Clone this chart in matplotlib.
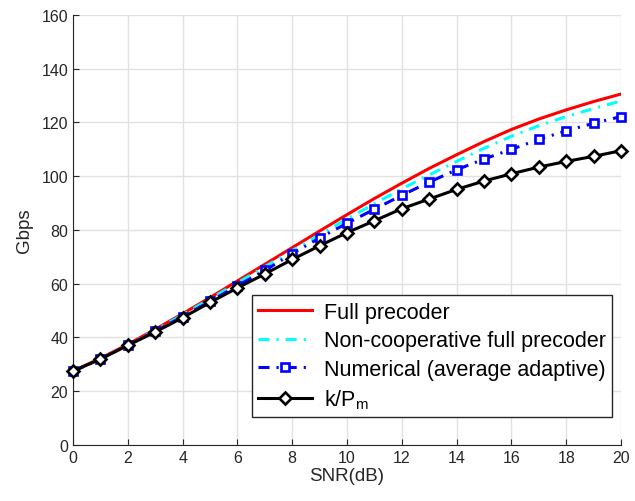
import matplotlib.pyplot as plt
import numpy as np

plt.rcParams['font.family'] = ['Liberation Sans', 'DejaVu Sans']

snr = list(range(0, 21))

full_precoder = [27.5, 32.2, 37.4, 43.0, 48.8, 54.8, 61.0, 67.2, 73.4, 79.6, 85.7,
                 91.7, 97.4, 102.9, 108.0, 112.9, 117.4, 121.3, 124.7, 127.8, 130.6]
noncoop_full = [27.4, 32.0, 37.2, 42.7, 48.4, 54.3, 60.3, 66.3, 72.3, 78.2, 84.1,
                89.8, 95.3, 100.5, 105.5, 110.4, 114.9, 118.8, 122.2, 125.2, 128.0]
numerical_avg = [27.4, 31.9, 37.1, 42.3, 47.7, 53.4, 59.2, 64.9, 71.2, 77.0, 82.5,
                 87.7, 92.9, 97.8, 102.4, 106.4, 110.0, 113.7, 116.9, 119.7, 122.2]
k_over_pm = [27.4, 31.9, 37.0, 42.0, 47.3, 53.0, 58.4, 63.6, 69.0, 74.1, 79.0,
             83.4, 87.9, 91.5, 95.1, 98.2, 100.9, 103.4, 105.5, 107.4, 109.5]

labels = ["Full precoder", "Non-cooperative full precoder",
          "Numerical (average adaptive)", r"k/P$_\mathregular{m}$"]

fig = plt.figure(figsize=(6.35, 5.02), dpi=100)
ax = fig.add_axes([0.115, 0.112, 0.863, 0.856])

dash_dot = (3.6, 2.3, 0.7, 2.3)

ax.plot(snr, full_precoder, color="red", linewidth=2.2, label=labels[0], zorder=3)
ax.plot(snr, noncoop_full, color="cyan", linewidth=2.2, dashes=dash_dot,
        label=labels[1], zorder=3)
ax.plot(snr, numerical_avg, color="blue", linewidth=2.2, dashes=dash_dot,
        marker="s", markersize=5.5, markerfacecolor="white", markeredgecolor="blue",
        markeredgewidth=1.9, label=labels[2], zorder=4, clip_on=False)
ax.plot(snr, k_over_pm, color="black", linewidth=2.2, marker="D", markersize=5.8,
        markerfacecolor="white", markeredgecolor="black", markeredgewidth=1.9,
        label=labels[3], zorder=5, clip_on=False)

ax.set_xlim(0, 20)
ax.set_ylim(0, 160)
ax.set_xticks(np.arange(0, 21, 2))
ax.set_yticks(np.arange(0, 161, 20))
ax.grid(True, color="#e2e2e2", linewidth=1)
ax.set_axisbelow(True)

for side in ["top", "right"]:
    ax.spines[side].set_visible(False)
for side in ["bottom", "left"]:
    ax.spines[side].set_color("#262626")
ax.tick_params(direction="in", length=4, colors="#262626", labelsize=11.5)

ax.set_xlabel("SNR(dB)", fontsize=13.5, color="#262626", labelpad=2)
ax.set_ylabel("Gbps", fontsize=13.5, color="#262626", labelpad=6)

leg = ax.legend(loc="lower right", bbox_to_anchor=(0.984, 0.064), fontsize=15.5,
                frameon=True, fancybox=False, edgecolor="#262626", framealpha=1,
                borderpad=0.3, labelspacing=0.35, handlelength=2.5,
                handletextpad=0.55, borderaxespad=0)
leg.get_frame().set_linewidth(1)

fig.savefig("out.png", dpi=100)
